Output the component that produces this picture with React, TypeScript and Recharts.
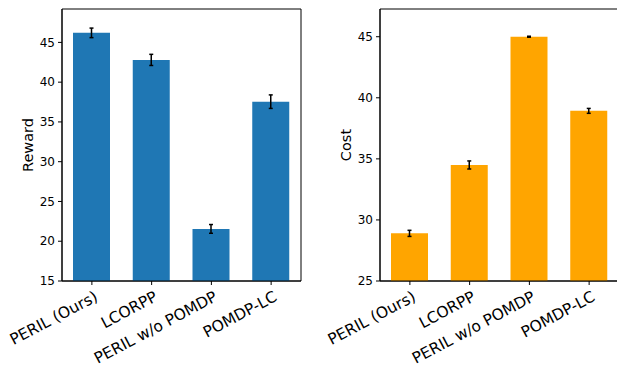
import { Bar, BarChart, ErrorBar, ReferenceArea, XAxis, YAxis } from 'recharts';

const methods = ['PERIL (Ours)', 'LCORPP', 'PERIL w/o POMDP', 'POMDP-LC'];
const rewardMean = [46.2, 42.8, 21.55, 37.55];
const rewardErr = [0.6, 0.7, 0.55, 0.85];
const costMean = [28.9, 34.5, 45.0, 38.93];
const costErr = [0.25, 0.33, 0.04, 0.2];
const rewardTicks = [15, 20, 25, 30, 35, 40, 45];
const costTicks = [25, 30, 35, 40, 45];

const FONT = '"DejaVu Sans", sans-serif';

// rotated category label, anchored at its end just below the tick
const XTick = ({ x, y, payload }: any) => (
  <g transform={`translate(${x + 7},${y + 15})`}>
    <text transform="rotate(-28)" textAnchor="end" fontSize={15.5} fontFamily={FONT} fill="#000">
      {payload.value}
    </text>
  </g>
);

const yLabel = (text: string, cx: number) => ({
  content: ({ viewBox }: any) => {
    const cy = viewBox.y + viewBox.height / 2;
    return (
      <text
        x={cx}
        y={cy}
        transform={`rotate(-90, ${cx}, ${cy})`}
        textAnchor="middle"
        dominantBaseline="central"
        fontSize={14.5}
        fontFamily={FONT}
        fill="#000"
      >
        {text}
      </text>
    );
  },
});

interface PanelProps {
  means: number[];
  errs: number[];
  color: string;
  domain: [number, number];
  ticks: number[];
  label: string;
  labelX: number;
  axisWidth: number;
  width: number;
  right: number;
}

function Panel({ means, errs, color, domain, ticks, label, labelX, axisWidth, width, right }: PanelProps) {
  const data = methods.map((name, i) => ({ name, value: means[i], err: errs[i] }));
  const axisStyle = { stroke: '#000', strokeWidth: 1 };
  return (
    <BarChart
      width={width}
      height={367}
      data={data}
      margin={{ top: 9, right, bottom: 0, left: 0 }}
      barCategoryGap={0}
    >
      <XAxis
        dataKey="name"
        height={86}
        tick={<XTick />}
        tickSize={4}
        tickMargin={0}
        axisLine={axisStyle}
        tickLine={axisStyle}
        interval={0}
      />
      <YAxis
        domain={domain}
        ticks={ticks}
        allowDataOverflow
        width={axisWidth}
        tickSize={4}
        tickMargin={3}
        tick={{ fontSize: 12, fontFamily: FONT, fill: '#000' }}
        axisLine={axisStyle}
        tickLine={axisStyle}
        label={yLabel(label, labelX)}
      />
      <Bar dataKey="value" fill={color} barSize={37} isAnimationActive={false}>
        <ErrorBar dataKey="err" direction="y" width={2} stroke="#000" strokeWidth={1.5} />
      </Bar>
      <ReferenceArea
        x1={methods[0]}
        x2={methods[methods.length - 1]}
        y1={domain[0]}
        y2={domain[1]}
        fill="none"
        fillOpacity={0}
        stroke="#000"
        strokeWidth={1}
        ifOverflow="visible"
      />
    </BarChart>
  );
}

export default function App() {
  return (
    <div style={{ position: 'absolute', left: 0, top: 0, width: 617, height: 367, overflow: 'hidden', background: '#fff' }}>
      <div style={{ position: 'absolute', left: 0, top: 0 }}>
        <Panel
          means={rewardMean}
          errs={rewardErr}
          color="#1f77b4"
          domain={[15, 49.2]}
          ticks={rewardTicks}
          label="Reward"
          labelX={28}
          axisWidth={62}
          width={310}
          right={9}
        />
      </div>
      <div style={{ position: 'absolute', left: 310, top: 0 }}>
        <Panel
          means={costMean}
          errs={costErr}
          color="#ffa500"
          domain={[25, 47.27]}
          ticks={costTicks}
          label="Cost"
          labelX={36}
          axisWidth={70}
          width={317}
          right={8}
        />
      </div>
    </div>
  );
}
